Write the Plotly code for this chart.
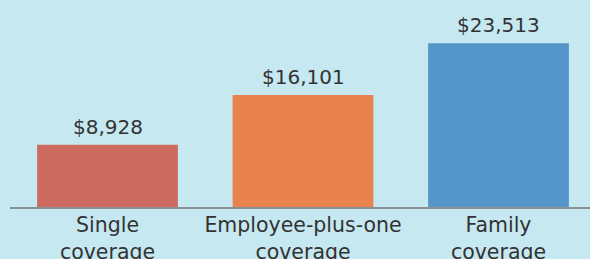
import plotly.graph_objects as go

categories = ["Single<br>coverage", "Employee-plus-one<br>coverage", "Family<br>coverage"]
values = [8928, 16101, 23513]
labels = ["$8,928", "$16,101", "$23,513"]
colors = ["#cc6a60", "#e8834e", "#5596ca"]

FONT = "DejaVu Sans, sans-serif"
xs = list(range(len(categories)))

fig = go.Figure(go.Bar(
    x=xs, y=values,
    marker=dict(color=colors, line=dict(width=0)), width=0.72,
))
for x, v, t in zip(xs, values, labels):
    fig.add_annotation(x=x, y=v, text=t, showarrow=False, yanchor="bottom", yshift=4,
                       font=dict(family=FONT, size=20, color="#333333"))
fig.update_layout(
    width=590, height=259, margin=dict(l=10, r=0, t=0, b=52),
    paper_bgcolor="#c6e8f1", plot_bgcolor="#c6e8f1", showlegend=False,
    xaxis=dict(tickvals=xs, ticktext=categories, automargin=False, ticklabelstandoff=-1,
               range=[-0.4987, 2.468], showline=True, linecolor="#8a8f94", linewidth=1.5,
               showgrid=False, zeroline=False, ticks="",
               tickfont=dict(family=FONT, size=20.5, color="#333333")),
    yaxis=dict(range=[0, 29725], visible=False, automargin=False),
)
fig.write_html("out.html", config={"displayModeBar": False},
               post_script="document.body.style.margin='0';")
